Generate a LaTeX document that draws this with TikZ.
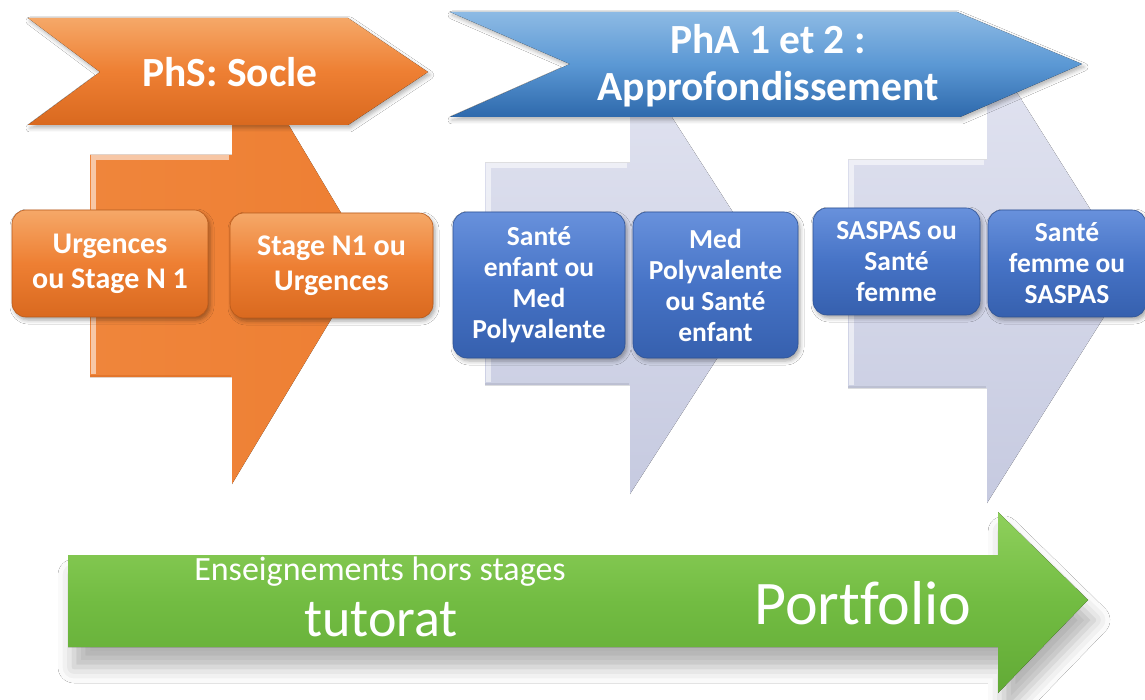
\documentclass[tikz,border=0pt]{standalone}
\usepackage{fontspec}
\setmainfont{Carlito}[Ligatures=NoCommon]
\usetikzlibrary{shadows.blur}
\definecolor{oLight}{HTML}{F5A868}
\definecolor{oMain}{HTML}{EE7F33}
\definecolor{oDark}{HTML}{D9691F}
\definecolor{bLight}{HTML}{8DBAE4}
\definecolor{bMain}{HTML}{5B98D4}
\definecolor{bDark}{HTML}{2E69AC}
\definecolor{kLight}{HTML}{6891DC}
\definecolor{kMain}{HTML}{4673C6}
\definecolor{kDark}{HTML}{3660AE}
\definecolor{gLight}{HTML}{E2E4F1}
\definecolor{gDark}{HTML}{C6CAE0}
\definecolor{vLight}{HTML}{8FD05C}
\definecolor{vMain}{HTML}{72BC42}
\definecolor{vDark}{HTML}{62AA36}
\tikzset{
  obox/.style={rounded corners=14, top color=oLight, bottom color=oDark, middle color=oMain,
    draw=oDark!85!black, line width=0.6, text=white, align=center, inner sep=0,
    font=\fontsize{30}{35}\selectfont\bfseries,
    blur shadow={shadow xshift=2pt, shadow yshift=-3pt, shadow blur radius=4pt, shadow opacity=35}},
  bbox/.style={rounded corners=14, top color=kLight, bottom color=kDark, middle color=kMain,
    draw=kDark!85!black, line width=0.6, text=white, align=center, inner sep=0,
    font=\fontsize{27.5}{31}\selectfont\bfseries,
    blur shadow={shadow xshift=2pt, shadow yshift=-3pt, shadow blur radius=4pt, shadow opacity=35}},
  bantext/.style={text=white, align=center, font=\fontsize{41.5}{47}\selectfont\bfseries},
  greytip/.style={top color=gLight, bottom color=gDark},
  bevel/.style={white, line width=5, opacity=.55, line join=miter},
}
\begin{document}
\begin{tikzpicture}[x=1pt,y=-1pt]
\useasboundingbox[fill=white] (0,0) rectangle (1145,700);

% orange block arrow
\fill[left color=oMain!85!oLight, right color=oMain]
  (90,155) -- (232,155) -- (232,30) -- (368,258) -- (232,484) -- (232,377) -- (90,377) -- cycle;
\draw[bevel] (93,374) -- (93,158) -- (229,158);
\draw[oDark, line width=2, opacity=.5] (90,376) -- (231,376);

% grey block arrows
\fill[greytip]
  (485,163) -- (630,163) -- (630,52) -- (772,273) -- (630,494) -- (630,385) -- (485,385) -- cycle;
\draw[bevel] (488,382) -- (488,166) -- (627,166);
\draw[gDark!80!black, line width=2, opacity=.35] (485,384) -- (629,384);
\fill[greytip]
  (848,160) -- (987,160) -- (987,45) -- (1131,274) -- (987,503) -- (987,388) -- (848,388) -- cycle;
\draw[bevel] (851,385) -- (851,163) -- (984,163);
\draw[gDark!80!black, line width=2, opacity=.35] (848,387) -- (986,387);

% banners
\fill[top color=oLight, bottom color=oDark, middle color=oMain,
  blur shadow={shadow xshift=2pt, shadow yshift=-3pt, shadow blur radius=4pt, shadow opacity=30}]
  (28,18) -- (348,18) -- (428,72) -- (348,125) -- (28,125) -- (100,72) -- cycle;
\node[bantext] (phs) at (230,72) {PhS: Socle};

\fill[top color=bLight, bottom color=bDark, middle color=bMain,
  blur shadow={shadow xshift=2pt, shadow yshift=-3pt, shadow blur radius=4pt, shadow opacity=30}]
  (450,12) -- (957,12) -- (1082,64) -- (960,117) -- (450,117) -- (570,64) -- cycle;
\node[bantext] (pha) at (768,66) {PhA 1 et 2 :\\Approfondissement};

% boxes
\node[obox, minimum width=196, minimum height=107] (u1) at (110,263.5) {Urgences\\ou Stage N 1};
\node[obox, minimum width=203, minimum height=105] (u2) at (331.5,265.5) {Stage N1 ou\\Urgences};
\node[bbox, minimum width=172, minimum height=146] (b1) at (539,285) {Santé\\enfant ou\\Med\\Polyvalente};
\node[bbox, minimum width=165, minimum height=146] (b2) at (715.5,285) {Med\\Polyvalente\\ou Santé\\enfant};
\node[bbox, minimum width=167, minimum height=107] (b3) at (896.5,261.5) {SASPAS ou\\Santé\\femme};
\node[bbox, minimum width=158, minimum height=107] (b4) at (1067,263.5) {Santé\\femme ou\\SASPAS};

% green arrow
\fill[top color=vLight, bottom color=vDark, middle color=vMain,
  blur shadow={shadow xshift=6pt, shadow yshift=-20pt, shadow blur radius=16pt, shadow opacity=30}]
  (68,555) -- (998,555) -- (998,512) -- (1088,600) -- (998,693) -- (998,647) -- (68,647) -- cycle;
\node[text=white, font=\fontsize{34}{40}\selectfont] (ens) at (380,572) {Enseignements hors stages};
\node[text=white, font=\fontsize{54}{60}\selectfont] (tut) at (381,620) {tutorat};
\node[text=white, font=\fontsize{62}{70}\selectfont] (port) at (863,603) {Portfolio};
\end{tikzpicture}
\end{document}
